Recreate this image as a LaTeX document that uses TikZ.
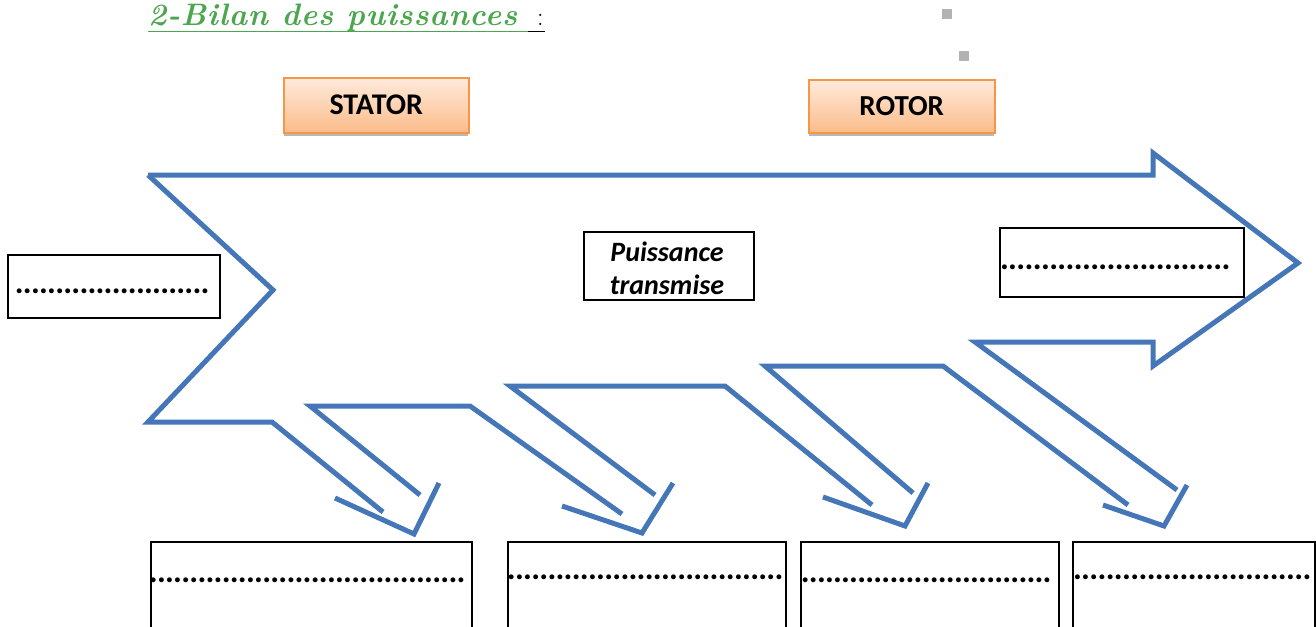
\documentclass[tikz,border=0pt]{standalone}
\usepackage{fontspec}
\newfontfamily\calibrifont{Carlito}
\newfontfamily\titlefont[LetterSpace=2.5]{lmroman10-bolditalic.otf}
\usetikzlibrary{shadings}
\definecolor{arrowblue}{RGB}{68,118,184}
\definecolor{titlegreen}{RGB}{76,166,78}
\definecolor{orangeborder}{RGB}{247,150,70}
\definecolor{peachtop}{RGB}{255,234,220}
\definecolor{peachbot}{RGB}{251,188,138}
\newcommand\dotrow[1]{\hbox to #1{\xleaders\hbox to 8pt{\hss.\hss}\hfill}}
\tikzset{
  flow/.style={draw=arrowblue, line width=5pt, line join=miter},
  blank/.style={draw=black, line width=1.6pt, fill=white, inner sep=0pt, anchor=north west},
  dots/.style={font=\calibrifont\bfseries\fontsize{33}{34}\selectfont, inner sep=0pt, anchor=base west},
  partbox/.style={draw=orangeborder, line width=1.5pt, top color=peachtop, bottom color=peachbot,
    minimum width=185pt, minimum height=55pt, inner sep=0pt, anchor=north west,
    font=\calibrifont\bfseries\fontsize{30}{32}\selectfont},
  shadowstrip/.style={fill=gray!55, draw=none},
  speck/.style={fill=gray!60, draw=none}
}
\begin{document}
\begin{tikzpicture}[x=1pt,y=-1pt]
\useasboundingbox (0,0) rectangle (1316,626);
\clip (0,0) rectangle (1316,626);
% title
\node[anchor=base west, inner sep=0pt, text=titlegreen, font=\titlefont\fontsize{31}{32}\selectfont] (title) at (148,26) {2-Bilan des puissances};
\draw[titlegreen, line width=1.8pt] (148,31.5) -- (528,31.5) coordinate (ul);
\node[anchor=base west, inner sep=0pt, font=\fontsize{26}{30}\selectfont] (colon) at (537,26) {:};
\draw[black, line width=1.8pt] (528,31.5) -- (545,31.5);
% specks
\fill[speck] (942,9) rectangle (952,19);
\fill[speck] (959,51) rectangle (969,61);
% stator / rotor
\fill[shadowstrip] (284,132) rectangle (468,136);
\fill[shadowstrip] (809,132) rectangle (994,136);
\node[partbox] (stator) at (283,77) {STATOR};
\node[partbox, minimum width=186pt, minimum height=53pt, font=\calibrifont\bfseries\fontsize{29}{32}\selectfont] (rotor) at (808,79) {ROTOR};
% big arrow outline
\draw[flow] (148,175) -- (1153,175) -- (1153,153) -- (1298,263) -- (1153,366) -- (1153,342) -- (975,342) -- (1177,490);
\draw[flow] (1187,485) -- (1164,526) -- (1103,505);
\draw[flow] (1128,505) -- (943,366) -- (765,366) -- (913,493);
\draw[flow] (928,483) -- (905,526) -- (823,497);
\draw[flow] (872,505) -- (725,386) -- (510,386) -- (655,495);
\draw[flow] (673,483) -- (642,533) -- (562,506);
\draw[flow] (622,514) -- (470,406) -- (310,406) -- (420,495);
\draw[flow] (439,483) -- (414,534) -- (335,498);
\draw[flow] (383,512) -- (272,422) -- (148,422) -- (273,290) -- (148,175);
% boxes
\node[blank, minimum width=212pt, minimum height=63pt] (inbox) at (7,254) {};
\node[dots] (indots) at (15,293) {\dotrow{194pt}};
\node[blank, minimum width=170pt, minimum height=68pt] (transbox) at (583,231) {};
\node[inner sep=0pt, align=center, font=\calibrifont\bfseries\itshape\fontsize{28}{33}\selectfont] (trans) at (667,268) {Puissance\\transmise};
\node[blank, minimum width=244pt, minimum height=69pt] (outbox) at (999,227) {};
\node[dots] (outdots) at (1000,269) {\dotrow{230pt}};
\node[blank, minimum width=321pt, minimum height=100pt] (b1) at (150,541) {};
\node[dots] (d1) at (149,582) {\dotrow{316pt}};
\node[blank, minimum width=278pt, minimum height=100pt] (b2) at (507,541) {};
\node[dots] (d2) at (507,579) {\dotrow{276pt}};
\node[blank, minimum width=258pt, minimum height=100pt] (b3) at (800,541) {};
\node[dots] (d3) at (801,582) {\dotrow{250pt}};
\node[blank, minimum width=242pt, minimum height=100pt] (b4) at (1072,541) {};
\node[dots] (d4) at (1073,579) {\dotrow{238pt}};
\end{tikzpicture}
\end{document}
